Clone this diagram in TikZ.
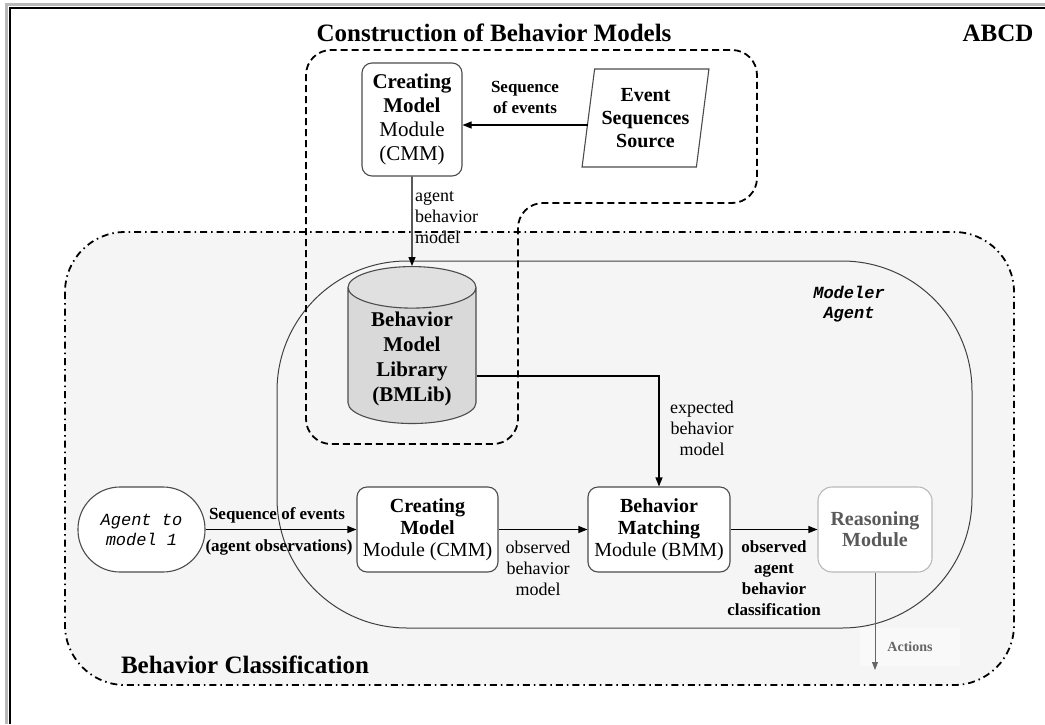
\documentclass[tikz,border=0pt]{standalone}
\usepackage{fontspec}
\setmainfont{Liberation Serif}
\setmonofont{Liberation Mono}
\usetikzlibrary{arrows.meta,shapes.geometric}

\begin{document}
\begin{tikzpicture}[x=1pt, y=-1pt,
  box/.style={draw=black!70, line width=1.1pt, rounded corners=10pt, fill=white, align=center, inner sep=2pt},
  lbl/.style={align=center, font=\fontsize{18}{21}\selectfont},
  blbl/.style={align=center, font=\fontsize{17}{21}\selectfont\bfseries},
  ttl/.style={font=\fontsize{25}{28}\selectfont\bfseries},
  arr/.style={-{Triangle[length=9pt,width=7pt]}, line width=1.1pt}]
  \useasboundingbox (0,0) rectangle (1045,724);
  % Frame
  \draw[gray!55, line width=3pt] (6.5,724) -- (6.5,4.5) -- (1045,4.5);
  \draw[black, line width=1.3pt] (10,724) -- (10,8) -- (1045,8);
  % Behavior classification region
  \draw[line width=1.8pt, dash pattern=on 7pt off 4pt on 1.5pt off 4pt, fill=gray!8, rounded corners=60pt]
    (65,232) rectangle (1014,685);
  % Modeler agent
  \draw[black!75, line width=1pt, rounded corners=130pt] (277,261) rectangle (972,628);
  % Construction region
  \draw[line width=1.8pt, dash pattern=on 7pt off 4pt, rounded corners=25pt]
    (500,50) -- (757,50) -- (757,203) -- (518,203) -- (518,444) -- (306,444) -- (306,50) -- cycle;
  % Titles
  \node[ttl] (title) at (494,33) {Construction of Behavior Models};
  \node[ttl] (abcd) at (998,33) {ABCD};
  \node[ttl] (bctitle) at (245,665) {Behavior Classification};
  \node[font=\fontsize{17}{20}\selectfont\ttfamily\bfseries\itshape, align=center] (modeler) at (849,304) {Modeler\\Agent};
  % Upper part
  \node[box, minimum width=100pt, minimum height=113pt, font=\fontsize{21}{24}\selectfont] (cmmA) at (412,119.5)
    {\textbf{Creating}\\\textbf{Model}\\Module\\(CMM)};
  \node[trapezium, trapezium left angle=80, trapezium right angle=100, trapezium stretches=true,
    draw=black!70, line width=1.1pt, fill=white, minimum width=127pt, minimum height=98pt,
    align=center, font=\fontsize{20}{23}\selectfont\bfseries] (evsrc) at (645.5,118)
    {Event\\Sequences\\Source};
  \draw[arr] ([yshift=-7pt]evsrc.west) -- ([yshift=-7pt]evsrc.west -| cmmA.east);
  \node[blbl] (seqlbl) at (525,97) {Sequence\\of events};
  \node[cylinder, shape border rotate=90, aspect=0.47, draw=black!70, line width=1.1pt,
    cylinder uses custom fill, cylinder body fill=gray!30, cylinder end fill=gray!24,
    minimum width=128pt, minimum height=142pt, align=center,
    font=\fontsize{21}{25}\selectfont\bfseries] (bmlib) at (412,359)
    {Behavior\\Model\\Library\\(BMLib)};
  \draw[arr] (cmmA.south) -- (bmlib.north);
  \node[lbl, align=left, anchor=west, inner sep=1pt] (ablbl) at (414,218) {agent\\behavior\\model};
  % Lower part
  \node[box, rounded corners=42pt, minimum width=127pt, minimum height=85pt,
    font=\fontsize{17}{20}\selectfont\ttfamily\itshape] (agent) at (141.5,529.5) {Agent to\\model 1};
  \node[box, minimum width=141pt, minimum height=85pt, font=\fontsize{20}{22}\selectfont] (cmmB) at (427.5,529.5)
    {\textbf{Creating}\\\textbf{Model}\\Module (CMM)};
  \node[box, minimum width=142pt, minimum height=85pt, font=\fontsize{20}{22}\selectfont] (bmm) at (659,529.5)
    {\textbf{Behavior}\\\textbf{Matching}\\Module (BMM)};
  \node[box, draw=gray!55, rounded corners=14pt, text=black!65, minimum width=114pt, minimum height=85pt,
    font=\fontsize{20}{21}\selectfont\bfseries] (reas) at (875,529.5) {Reasoning\\Module};
  \draw[arr] (agent) -- (cmmB);
  \node[blbl] (seqlbl2) at (277,515) {Sequence of events};
  \node[blbl] (obslbl) at (279,547) {(agent observations)};
  \draw[arr] (cmmB) -- (bmm);
  \node[lbl] (obmlbl) at (538,568) {observed\\behavior\\model};
  \draw[arr] ([yshift=-17pt]bmlib.east) -| (bmm.north);
  \node[lbl] (expl) at (702,428) {expected\\behavior\\model};
  \draw[arr] (bmm) -- (reas);
  \node[blbl] (classlbl) at (774,578) {observed\\agent\\behavior\\classification};
  % Actions
  \node[fill=gray!5, minimum width=100pt, minimum height=38pt, text=black!60,
    font=\fontsize{14}{16}\selectfont\bfseries] (actlbl) at (910,647) {Actions};
  \coordinate (actend) at (reas.south |- 0,670);
  \draw[-{Triangle[length=8pt,width=6pt]}, line width=0.8pt, black!60] (reas.south) -- (actend);
\end{tikzpicture}
\end{document}
